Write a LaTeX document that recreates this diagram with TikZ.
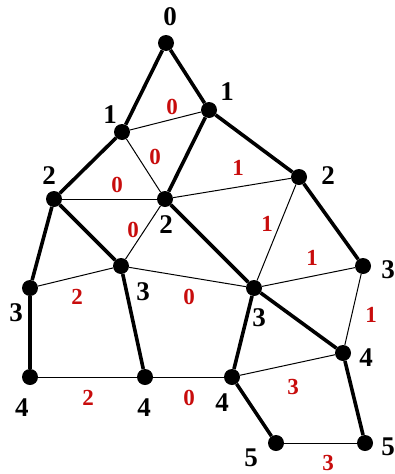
\documentclass[tikz,border=0pt]{standalone}
\usepackage{fontspec}
\setmainfont{Liberation Serif}
\definecolor{lblred}{RGB}{200,12,12}
\begin{document}
\begin{tikzpicture}[x=1pt,y=-1pt,
  dot/.style={circle,fill=black,inner sep=0pt,minimum size=16pt},
  thick edge/.style={line width=3.6pt},
  thin edge/.style={line width=1pt},
  vlab/.style={font=\fontsize{27}{27}\selectfont\bfseries,inner sep=0pt,text=black},
  elab/.style={font=\fontsize{23}{23}\selectfont\bfseries,inner sep=0pt,text=lblred}]
\useasboundingbox (0,0) rectangle (394,474);
% vertices
\node[dot] (a) at (166,43) {};
\node[dot] (b) at (122,132) {};
\node[dot] (c) at (209,110) {};
\node[dot] (d) at (54,199) {};
\node[dot] (e) at (165,199) {};
\node[dot] (f) at (299,177) {};
\node[dot] (g) at (30,288) {};
\node[dot] (h) at (121,266) {};
\node[dot] (i) at (254,288) {};
\node[dot] (j) at (363,266) {};
\node[dot] (k) at (30,377) {};
\node[dot] (l) at (145,377) {};
\node[dot] (m) at (232,377) {};
\node[dot] (n) at (343,353) {};
\node[dot] (o) at (276,443) {};
\node[dot] (p) at (365,443) {};
% thin edges
\begin{scope}[thin edge]
\draw (b) -- (c);
\draw (b) -- (e);
\draw (d) -- (e);
\draw (e) -- (f);
\draw (e) -- (h);
\draw (f) -- (i);
\draw (g) -- (h);
\draw (h) -- (i);
\draw (i) -- (j);
\draw (j) -- (n);
\draw (k) -- (l);
\draw (l) -- (m);
\draw (m) -- (n);
\draw (o) -- (p);
\end{scope}
% thick edges
\begin{scope}[thick edge]
\draw (a) -- (b);
\draw (a) -- (c);
\draw (b) -- (d);
\draw (c) -- (e);
\draw (c) -- (f);
\draw (d) -- (g);
\draw (d) -- (h);
\draw (e) -- (i);
\draw (f) -- (j);
\draw (g) -- (k);
\draw (h) -- (l);
\draw (i) -- (m);
\draw (i) -- (n);
\draw (m) -- (o);
\draw (n) -- (p);
\end{scope}
% vertex labels
\node[vlab] (la) at (170,17) {0};
\node[vlab] (lb) at (110,115) {1};
\node[vlab] (lc) at (227,92) {1};
\node[vlab] (ld) at (49,176) {2};
\node[vlab] (le) at (166,225) {2};
\node[vlab] (lf) at (328,176) {2};
\node[vlab] (lg) at (16,313) {3};
\node[vlab] (lh) at (143,292) {3};
\node[vlab] (li) at (259,318) {3};
\node[vlab] (lj) at (388,270) {3};
\node[vlab] (lk) at (22,408) {4};
\node[vlab] (ll) at (144,408) {4};
\node[vlab] (lm) at (222,403) {4};
\node[vlab] (ln) at (366,358) {4};
\node[vlab] (lo) at (251,458) {5};
\node[vlab] (lp) at (388,447) {5};
% edge labels
\node[elab] (e1) at (172,107) {0};
\node[elab] (e2) at (155,157) {0};
\node[elab] (e3) at (117,185) {0};
\node[elab] (e4) at (238,168) {1};
\node[elab] (e5) at (267,224) {1};
\node[elab] (e6) at (133,230) {0};
\node[elab] (e7) at (77,297) {2};
\node[elab] (e8) at (189,297) {0};
\node[elab] (e9) at (312,258) {1};
\node[elab] (e10) at (371,315) {1};
\node[elab] (e11) at (88,398) {2};
\node[elab] (e12) at (189,398) {0};
\node[elab] (e13) at (293,387) {3};
\node[elab] (e14) at (328,463) {3};
\end{tikzpicture}
\end{document}
